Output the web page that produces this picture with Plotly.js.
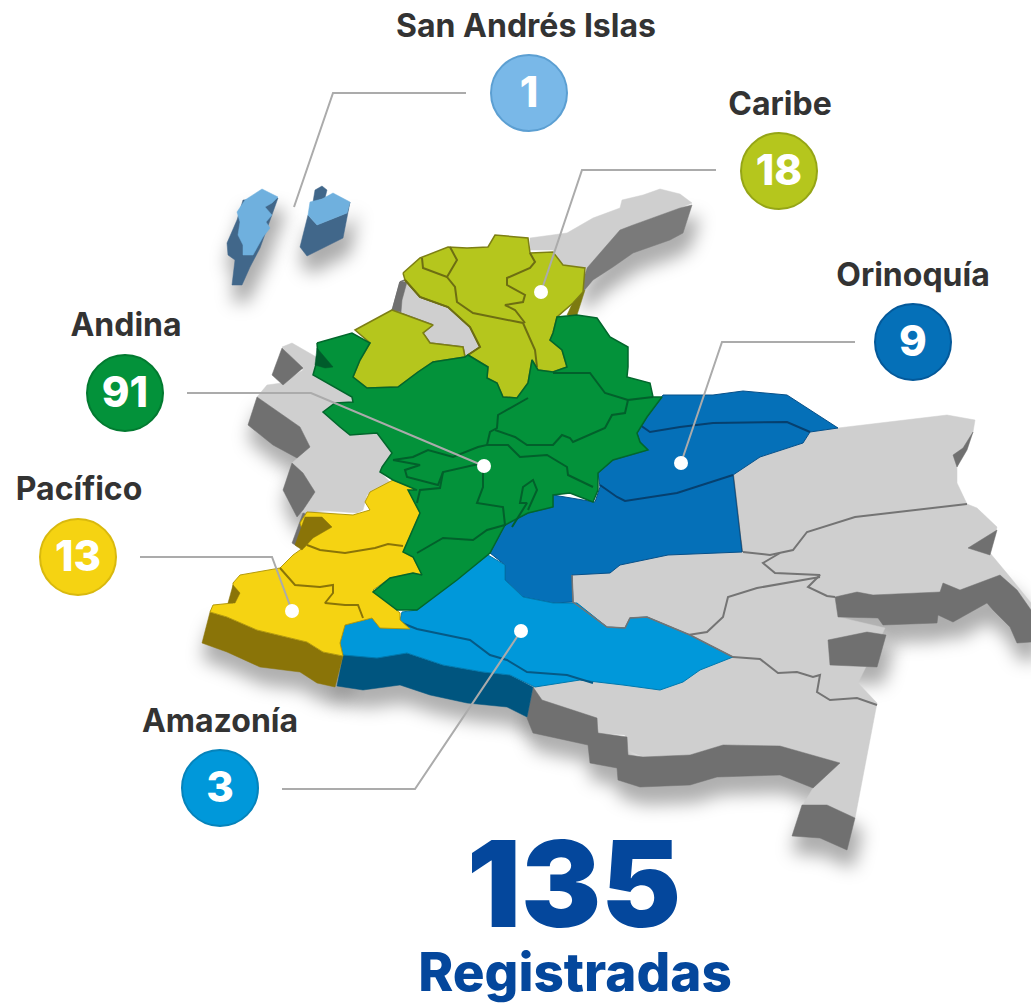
<!DOCTYPE html>
<html><head><meta charset="utf-8">
<script src="https://cdn.plot.ly/plotly-3.0.1.min.js"></script>
<style>html,body{margin:0;padding:0;background:#fff}#c{width:1031px;height:1004px}</style></head>
<body><div id="c"></div>
<script>
const regionNames=["San Andrés Islas","Caribe","Orinoquía","Andina","Pacífico","Amazonía"];
const regionCounts=[1,18,9,91,13,3];
const regionColors=["#79b8e8","#b5c61d","#0570b8","#03923a","#f5d312","#0098da"];
const regionBorders=["#5c9fd2","#95a516","#04599a","#027a30","#d9b90e","#0583bb"];
const badgeX=[529,779,913,125,78,220];
const badgeY=[93,171,342,393,557,788];
const badgeTextY=[96,174,345,396,560,791];
const labelX=[526,780,913,126,79,220];
const labelY=[29,107,278,328,492,724];
const totalValue="135";
const totalLabel="Registradas";

const guajiraGrey=[[530,238],[567,233],[593,218],[620,208],[622,200],[643,195],[660,189],[680,194],[692,203],[680,208],[633,225],[587,268],[565,268],[553,250],[530,250]];
const guajiraSide=[[680,208],[692,205],[683,233],[670,240],[633,253],[613,267],[593,280],[583,292],[580,290],[587,268],[620,230],[633,225]];
const caribeSide=[[585,290],[577,315],[567,315],[573,302]];
const caribeNorth=[[403,273],[420,258],[448,247],[467,248],[488,247],[495,235],[528,238],[530,253],[553,252],[563,265],[585,268],[583,292],[573,303],[557,317],[553,333],[550,340],[562,350],[567,367],[553,372],[538,370],[532,360],[528,383],[517,398],[503,397],[497,383],[487,378],[488,367],[468,355],[480,347],[470,327],[448,307],[420,297],[405,280]];
const caribeWest=[[392,310],[433,325],[423,333],[430,343],[463,347],[465,357],[433,362],[418,372],[398,387],[367,388],[353,377],[360,360],[370,343],[355,330]];
const greyGulf=[[400,282],[405,280],[420,297],[448,307],[470,327],[480,347],[468,355],[465,357],[463,347],[430,343],[423,333],[433,325],[392,310],[393,308]];
const greyGulfSide=[[392,310],[400,282],[407,282],[402,300],[401,312]];
const greyWest=[[282,347],[292,343],[318,358],[313,375],[352,397],[353,402],[335,403],[325,413],[340,427],[350,435],[377,433],[392,453],[382,467],[380,472],[390,482],[367,495],[363,510],[357,513],[317,510],[300,513],[315,492],[303,473],[292,463],[310,447],[300,427],[257,397],[267,385],[282,383],[303,370]];
const westSideA=[[282,348],[303,368],[283,385],[272,375]];
const westSideB=[[257,397],[300,427],[310,447],[297,458],[273,445],[248,425]];
const westSideC=[[292,463],[303,473],[315,492],[303,510],[297,517],[283,490]];
const westSideD=[[303,513],[308,515],[298,547],[292,543]];
const andina=[[317,343],[352,333],[370,343],[360,360],[353,377],[367,388],[398,387],[418,372],[433,362],[465,357],[468,355],[488,367],[487,378],[497,383],[503,397],[517,398],[528,383],[532,360],[538,370],[553,372],[567,367],[562,350],[550,340],[553,333],[557,317],[577,315],[597,318],[610,337],[628,347],[628,367],[627,377],[650,383],[653,397],[662,397],[647,417],[637,433],[640,442],[648,450],[613,460],[598,473],[598,490],[593,502],[570,493],[553,495],[553,507],[528,513],[505,525],[490,553],[457,580],[417,610],[397,610],[373,592],[390,578],[413,573],[422,575],[413,557],[403,552],[420,513],[408,490],[417,490],[393,480],[380,472],[382,467],[392,453],[377,433],[350,435],[340,427],[323,412],[335,403],[353,402],[352,397],[313,375],[318,357]];
const andinaShade=[[317,348],[333,367],[325,368],[315,365]];
const orinoquia=[[663,395],[713,395],[743,391],[787,395],[838,428],[810,432],[803,443],[760,457],[733,475],[742,552],[668,555],[620,565],[610,573],[572,575],[573,602],[553,603],[523,597],[505,580],[505,565],[490,553],[505,525],[528,513],[553,507],[553,495],[595,502],[600,487],[598,473],[613,460],[648,450],[640,442],[637,433],[647,417]];
const amazonia=[[488,555],[505,565],[505,580],[523,597],[553,603],[577,603],[607,627],[625,628],[630,618],[647,617],[690,635],[733,657],[700,670],[683,682],[660,690],[623,685],[580,680],[535,687],[510,675],[483,672],[443,665],[407,653],[377,658],[343,655],[340,643],[345,625],[372,618],[380,628],[410,629],[400,620],[402,612],[417,610]];
const amazoniaSide=[[343,655],[407,653],[443,665],[483,672],[510,675],[533,687],[527,717],[507,707],[467,703],[430,695],[400,685],[363,690],[337,686]];
const pacifico=[[393,480],[417,490],[410,493],[420,513],[403,552],[413,557],[422,575],[413,573],[390,578],[373,590],[400,613],[400,620],[410,629],[380,628],[372,618],[345,625],[340,643],[343,656],[323,652],[307,642],[257,630],[227,617],[210,612],[213,605],[233,603],[233,583],[240,575],[257,572],[280,568],[293,555],[307,545],[300,523],[307,512],[353,515],[370,510],[365,502],[370,492]];
const pacificoSide=[[210,612],[227,617],[257,630],[307,642],[323,652],[343,656],[335,687],[317,683],[300,672],[260,667],[227,652],[202,643]];
const pacificoInletA=[[305,517],[322,517],[332,527],[313,538],[302,550],[295,545]];
const pacificoInletB=[[233,585],[240,593],[235,603],[228,603]];
const greyEast=[[733,475],[760,457],[803,443],[810,432],[838,428],[947,415],[975,420],[973,432],[957,467],[957,483],[967,504],[977,508],[997,527],[990,553],[1010,577],[1031,603],[1031,612],[1000,576],[960,591],[835,597],[838,617],[885,628],[858,683],[862,687],[877,703],[855,818],[827,805],[803,805],[813,788],[840,763],[780,746],[723,745],[690,755],[643,757],[628,750],[625,735],[600,733],[597,720],[542,700],[533,687],[573,602],[570,560],[742,540]];
const eastSideA=[[835,597],[857,592],[873,595],[940,592],[943,583],[960,590],[1000,575],[1017,590],[1031,610],[1031,642],[1017,643],[1010,627],[993,610],[987,603],[953,622],[938,615],[937,623],[883,625],[878,618],[838,617]];
const eastSideB=[[828,640],[867,632],[886,635],[877,667],[830,665]];
const eastSideC=[[533,687],[542,700],[597,718],[598,733],[627,737],[628,755],[643,757],[690,755],[723,745],[780,746],[840,763],[813,788],[793,780],[780,775],[717,777],[690,785],[640,787],[618,780],[617,768],[590,763],[588,745],[533,733],[527,718]];
const eastSideD=[[802,805],[827,805],[855,818],[847,850],[820,838],[792,836]];
const eastSideE=[[973,432],[967,450],[957,467],[953,455],[963,448]];
const eastSideF=[[997,530],[990,555],[968,548]];
const islandWestTop=[[245,200],[262,189],[278,197],[272,203],[265,207],[272,215],[266,222],[270,228],[263,237],[253,255],[243,255],[243,245],[238,235],[240,222],[237,212]];
const islandWestSide=[[278,198],[268,227],[260,248],[250,267],[242,285],[232,285],[235,260],[228,255],[227,243],[237,220],[243,200]];
const islandEastTop=[[310,202],[322,199],[333,193],[350,202],[347,213],[317,225],[308,215]];
const islandEastSide=[[308,215],[317,225],[347,213],[350,202],[343,238],[307,256],[300,247]];
const islandEastCay=[[315,190],[322,186],[327,190],[325,198],[313,202]];

const caribeLines=[
 [[422,258],[423,268],[447,277],[457,260],[450,247]],
 [[447,277],[455,287],[457,302],[473,313],[523,323],[535,350],[537,367]],
 [[530,253],[535,262],[530,268],[507,278],[507,285],[525,295],[523,302],[505,305],[515,310],[525,323]],
 [[405,280],[420,297],[448,307],[470,327],[480,347],[468,355]]];
const andinaLines=[
 [[528,398],[498,415],[497,428],[490,432],[487,445],[478,447],[453,457],[428,450],[413,457],[393,460]],
 [[495,430],[515,437],[527,445],[553,445],[562,435],[570,438],[573,442],[605,428],[612,415],[625,413],[628,400],[653,397]],
 [[553,373],[590,373],[605,393],[628,400]],
 [[487,445],[508,445],[520,457],[547,455],[567,467],[568,475],[593,487]],
 [[483,467],[483,487],[477,503],[503,507],[505,525],[487,530],[473,540],[443,538],[417,553]],
 [[512,527],[527,503],[520,503],[523,487],[533,480],[537,490],[528,510]],
 [[393,460],[420,465],[405,470],[407,477],[438,485],[443,472],[483,463]],
 [[417,503],[420,490],[440,488],[443,472]]];
const orinoquiaLines=[
 [[640,425],[650,432],[680,427],[713,423],[787,422],[810,432]],
 [[600,485],[617,497],[625,501],[677,493],[733,475]]];
const amazoniaLines=[[[402,623],[417,629],[470,640],[490,655],[507,660],[527,672],[567,675],[593,683]]];
const amazoniaEdge=[[572,575],[573,602],[577,605],[607,627],[625,628],[630,618],[647,617],[690,635],[733,657]];
const pacificoLines=[
 [[307,545],[320,550],[345,553],[375,548],[388,544],[403,546]],
 [[280,568],[295,585],[320,587],[333,585],[333,593],[325,603],[345,605],[358,605],[363,618]]];
const greyLines=[
 [[967,504],[913,510],[855,517],[807,532],[793,550],[770,555],[743,552]],
 [[780,553],[763,563],[775,573],[820,575],[808,587],[827,596],[835,597]],
 [[820,577],[757,588],[728,597],[723,617],[707,632],[688,635]],
 [[733,657],[760,659],[778,673],[797,672],[813,677],[820,675],[817,692],[830,700],[857,698],[877,705]],
 [[733,475],[742,552]]];
const leaderLines=[
 [[466,93],[333,93],[294,207]],
 [[716,170],[582,170],[541,292]],
 [[855,342],[722,342],[681,463]],
 [[187,393],[311,393],[484,466]],
 [[140,557],[272,557],[292,611]],
 [[282,789],[415,789],[521,631]]];
const leaderEnds=[[541,292],[681,463],[484,466],[292,611],[521,631]];

const traces=[];
const xs=p=>p.map(a=>a[0]), ys=p=>p.map(a=>a[1]);
function poly(p,fill,line,w){
  traces.push({type:'scatter',mode:'lines',x:xs(p).concat(p[0][0]),y:ys(p).concat(p[0][1]),fill:'toself',fillcolor:fill,
    line:{color:line||fill,width:w==null?0.5:w},hoverinfo:'skip',showlegend:false});
}
function path(p,color,w){
  traces.push({type:'scatter',mode:'lines',x:xs(p),y:ys(p),line:{color:color,width:w,shape:'linear'},hoverinfo:'skip',showlegend:false});
}
const shadowStart=traces.length;
[islandWestSide,islandEastSide,guajiraSide,westSideB,westSideC,pacificoSide,amazoniaSide,eastSideA,eastSideB,eastSideC,eastSideD].forEach(p=>{
  poly(p.map(a=>[a[0]+4,a[1]+14]),'rgba(0,0,0,0.3)','rgba(0,0,0,0.3)',6);
});
const shadowEnd=traces.length;

const GREY='#cfcfcf',SIDE='#707070',GL='#747474';
poly(guajiraGrey,GREY);poly(guajiraSide,'#7a7a7a');
poly(greyWest,GREY);poly(greyGulf,GREY,GL,1.5);poly(greyGulfSide,SIDE);
[westSideA,westSideB,westSideC,westSideD].forEach(p=>poly(p,SIDE));
poly(greyEast,GREY);
[eastSideA,eastSideB,eastSideC,eastSideD,eastSideE,eastSideF].forEach(p=>poly(p,SIDE));
greyLines.forEach(l=>path(l,GL,2));

poly(islandWestSide,'#41678a');poly(islandWestTop,'#6fb0de');
poly(islandEastCay,'#41678a');poly(islandEastSide,'#41678a');poly(islandEastTop,'#6fb0de');

poly(caribeSide,'#7c7a10');
poly(caribeNorth,regionColors[1],'#7d7f14',1.5);
poly(caribeWest,regionColors[1],'#7d7f14',1.5);
caribeLines.forEach(l=>path(l,'#6d6e12',2));

poly(orinoquia,regionColors[2],'#075089',1);
orinoquiaLines.forEach(l=>path(l,'#06406f',2));
poly(amazoniaSide,'#00557f');
poly(amazonia,regionColors[5],'#0079ae',1);
amazoniaLines.forEach(l=>path(l,'#055a86',2));
path(amazoniaEdge,GL,1.5);
poly(pacificoSide,'#8a7408');
poly(pacifico,regionColors[4],'#b49a0c',1);
poly(pacificoInletA,'#8a7408');poly(pacificoInletB,'#8a7408');
pacificoLines.forEach(l=>path(l,'#8a7408',2));
poly(andina,regionColors[3],'#02672c',1.5);
poly(andinaShade,'#005c2b');
andinaLines.forEach(l=>path(l,'#02602b',2));

leaderLines.forEach(l=>path(l,'#ababab',2));
traces.push({type:'scatter',mode:'markers',x:xs(leaderEnds),y:ys(leaderEnds),marker:{size:14,color:'#fff'},hoverinfo:'skip',showlegend:false});
traces.push({type:'scatter',mode:'markers',x:badgeX,y:badgeY,
  marker:{size:76,color:regionColors,line:{color:regionBorders,width:2}},hoverinfo:'skip',showlegend:false});
traces.push({type:'scatter',mode:'text',x:badgeX,y:badgeTextY,
  text:regionCounts.map(String),textposition:'middle center',
  textfont:{family:'Inter, sans-serif',size:42,color:'#fff',weight:800},hoverinfo:'skip',showlegend:false});
traces.push({type:'scatter',mode:'text',x:labelX,y:labelY,text:regionNames,textposition:'middle center',
  textfont:{family:'Inter, sans-serif',size:32,color:'#333333',weight:700},hoverinfo:'skip',showlegend:false});
traces.push({type:'scatter',mode:'text',x:[574],y:[897],text:[totalValue],textposition:'middle center',
  textfont:{family:'Inter, sans-serif',size:120,color:'#04479c',weight:900},hoverinfo:'skip',showlegend:false});
traces.push({type:'scatter',mode:'text',x:[575],y:[978],text:[totalLabel],textposition:'middle center',
  textfont:{family:'Inter, sans-serif',size:53,color:'#04479c',weight:800},hoverinfo:'skip',showlegend:false});

const layout={width:1031,height:1004,margin:{l:0,r:0,t:0,b:0,pad:0},paper_bgcolor:'#fff',plot_bgcolor:'#fff',showlegend:false,
  xaxis:{range:[0,1031],visible:false,fixedrange:true},yaxis:{range:[1004,0],visible:false,fixedrange:true}};
Plotly.newPlot('c',traces,layout,{displayModeBar:false,staticPlot:true}).then(gd=>{
  const t=gd.querySelectorAll('.scatterlayer .trace');
  for(let i=shadowStart;i<shadowEnd;i++){t[i].style.filter='blur(9px)';}
});
</script></body></html>
